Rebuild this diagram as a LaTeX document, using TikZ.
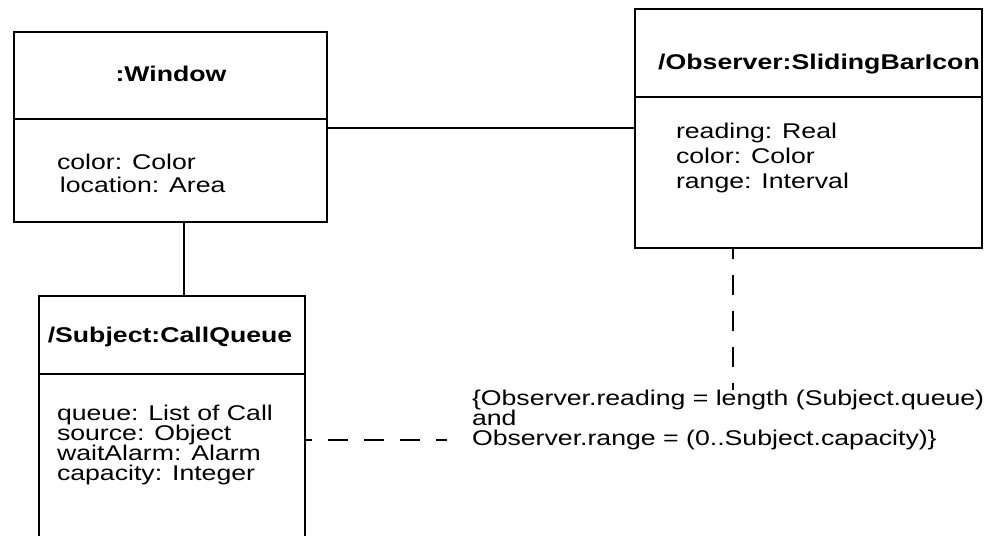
\documentclass[tikz,border=0pt]{standalone}
\usepackage{fontspec}
\setmainfont{Liberation Sans}[FakeStretch=1.25]

\begin{document}
\begin{tikzpicture}[
x=0.75pt,
y=-0.75pt,
every node/.style={text=black,outer sep=0pt},
objbox/.style={draw=black,line width=1.5pt,inner sep=0pt},
objtitle/.style={font=\fontsize{16pt}{17pt}\selectfont\bfseries,inner sep=0pt},
attrs/.style={font=\fontsize{16pt}{15pt}\selectfont,align=left,inner sep=0pt},
link/.style={draw=black,line width=1.5pt},
constraint/.style={draw=black,line width=1.5pt,dash pattern=on 15pt off 12pt}
]

\useasboundingbox (0,0) rectangle (994,535);
\clip (0,0) rectangle (994,535);

% :Window
\node[objbox,minimum width=234.75pt,minimum height=65.25pt] (winhead) at (170.5,75.5) {};
\node[objbox,minimum width=234.75pt,minimum height=77.25pt] (winbody) at (170.5,170.5) {};
\node[objtitle] (wintitle) at (171,74) {:Window};
\node[attrs,font=\fontsize{16pt}{17.25pt}\selectfont,anchor=base west] (winattr) at (57,192) {color: Color\\\hspace*{2.2pt}location: Area};

% /Observer:SlidingBarIcon
\node[objbox,minimum width=260.25pt,minimum height=66pt] (obshead) at (808.5,53) {};
\node[objbox,minimum width=260.25pt,minimum height=113.25pt] (obsbody) at (808.5,172.5) {};
\node[objtitle] (obstitle) at (819,64) {/Observer:SlidingBarIcon};
\node[attrs,font=\fontsize{16pt}{18.75pt}\selectfont,anchor=base west] (obsattr) at (676,188) {reading: Real\\color: Color\\range: Interval};

% /Subject:CallQueue
\node[objbox,minimum width=199.5pt,minimum height=58.5pt] (subhead) at (172,335) {};
\node[objbox,minimum width=199.5pt,minimum height=139.5pt] (subbody) at (172,467) {};
\node[objtitle] (subtitle) at (170,337) {/Subject:CallQueue};
\node[attrs,anchor=base west] (subattr) at (57,480) {queue: List of Call\\source: Object\\waitAlarm: Alarm\\capacity: Integer};

% constraint
\node[attrs,anchor=base west] (note) at (472,445) {\{Observer.reading = length (Subject.queue)\\and\\Observer.range = (0..Subject.capacity)\}};

\draw[link] ([yshift=-6.75pt]winbody.north east) -- ([yshift=-6.75pt]winbody.north east -| obsbody.west);
\draw[link] ([xshift=10pt]winbody.south) -- ([xshift=10pt]winbody.south |- subhead.north);

\coordinate (obsfoot) at ([xshift=-56.6pt]obsbody.south);
\draw[constraint,dash phase=6.75pt] (obsfoot) -- (obsfoot |- note.north);
\coordinate (notejoin) at ([xshift=-18.75pt,yshift=7pt]note.south west);
\draw[constraint,dash phase=9.75pt] (notejoin -| subbody.east) -- (notejoin);

\end{tikzpicture}
\end{document}
